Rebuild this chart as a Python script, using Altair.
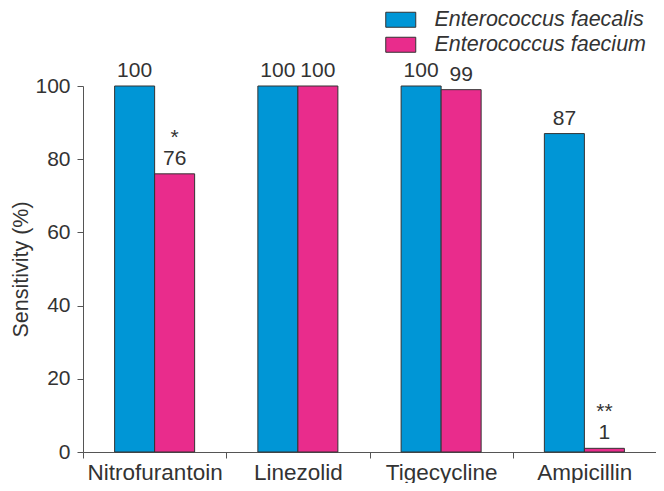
import altair as alt
import pandas as pd

drugs = ["Nitrofurantoin", "Linezolid", "Tigecycline", "Ampicillin"]
species = ["Enterococcus faecalis", "Enterococcus faecium"]
faecalis = [100, 100, 100, 87]
faecium = [76, 100, 99, 1]
faecalis_sig = ["", "", "", ""]
faecium_sig = ["*", "", "", "**"]
colors = ["#0096d6", "#e92c8c"]

rows = []
for i, d in enumerate(drugs):
    rows.append({"drug": d, "species": species[0], "value": faecalis[i], "sig": faecalis_sig[i]})
    rows.append({"drug": d, "species": species[1], "value": faecium[i], "sig": faecium_sig[i]})
df = pd.DataFrame(rows)

FONT = "Liberation Sans"
TXT = "#333333"
AX = "#555555"

x = alt.X(
    "drug:N",
    sort=drugs,
    scale=alt.Scale(paddingInner=0, paddingOuter=0),
    axis=alt.Axis(
        title=None, tickBand="extent", tickSize=6, tickColor=AX, domainColor=AX,
        labelFontSize=22.5, labelColor=TXT, labelPadding=3, labelAngle=0, labelFont=FONT,
    ),
)
xo = alt.XOffset("species:N", sort=species, scale=alt.Scale(paddingInner=0, paddingOuter=0.79))
y = alt.Y(
    "value:Q",
    scale=alt.Scale(domain=[0, 100], nice=False),
    axis=alt.Axis(
        title="Sensitivity (%)", values=[0, 20, 40, 60, 80, 100], tickSize=6,
        tickColor=AX, domainColor=AX, labelFontSize=21, labelColor=TXT, labelPadding=7,
        labelFont=FONT, grid=False, titleFontSize=21.5, titleFontWeight="normal",
        titleColor=TXT, titleFont=FONT, titlePadding=2,
    ),
)

base = alt.Chart(df)

bars = base.mark_bar(stroke="#333333", strokeWidth=1).encode(
    x=x,
    xOffset=xo,
    y=y,
    color=alt.Color(
        "species:N",
        sort=species,
        scale=alt.Scale(domain=species, range=colors),
        legend=alt.Legend(
            title=None, orient="none", legendX=307, legendY=-77,
            symbolType="M-2,-1H2V1H-2Z", symbolSize=225,
            symbolStrokeColor="#333333", symbolStrokeWidth=1,
            labelFontSize=21.5, labelFontStyle="italic", labelColor=TXT, labelFont=FONT,
            labelOffset=23, labelLimit=400, rowPadding=2, padding=0,
        ),
    ),
)

labels = base.mark_text(baseline="alphabetic", dy=-9, fontSize=21, color=TXT, font=FONT).encode(
    x=x, xOffset=xo, y=y, text="value:Q"
)

stars = base.mark_text(baseline="alphabetic", dy=-30, fontSize=21, color=TXT, font=FONT).encode(
    x=x, xOffset=xo, y=y, text="sig:N"
)

chart = (
    alt.layer(bars, labels, stars)
    .properties(
        width=573, height=366,
        autosize=alt.AutoSizeParams(type="none"),
        padding={"left": 75, "top": 78, "right": 0, "bottom": 31},
    )
    .configure_view(stroke=None)
)

chart.save("out.html", embed_options={"renderer": "svg", "actions": False})
